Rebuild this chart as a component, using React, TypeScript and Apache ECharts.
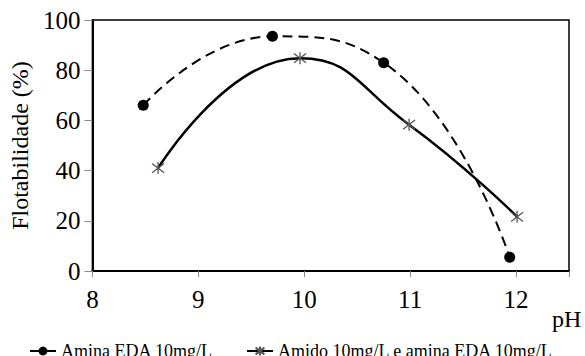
import React, { useEffect, useRef } from "react";
import * as echarts from "echarts";

// pH values and flotability (%) for each reagent condition
const phAmina = [8.48, 9.7, 10.75, 11.94];
const flotAmina = [66, 93.5, 83, 5.5];
const phAmido = [8.62, 9.96, 10.99, 12.01];
const flotAmido = [41, 84.8, 58.3, 21.6];

const seriesNames = ["Amina EDA 10mg/L", "Amido 10mg/L e amina EDA 10mg/L"];
const xTicks = [8, 9, 10, 11, 12];
const yTicks = [0, 20, 40, 60, 80, 100];

const FONT = "Liberation Serif";
const ASTERISK = "path://M-1,-1L1,1M-1,1L1,-1M0,-1.3L0,1.3";

export default function App() {
  const ref = useRef<HTMLDivElement>(null);

  useEffect(() => {
    if (!ref.current) return;
    const chart = echarts.init(ref.current, undefined, { renderer: "svg" });
    chart.setOption({
      animation: false,
      backgroundColor: "#fff",
      textStyle: { fontFamily: FONT, color: "#000" },
      grid: {
        left: 87,
        right: 16,
        top: 20,
        bottom: 85,
        show: true,
        borderColor: "#000",
        borderWidth: 1.5,
      },
      xAxis: {
        type: "value",
        min: xTicks[0],
        max: 12.5,
        interval: 1,
        axisLine: { onZero: false, lineStyle: { color: "#000", width: 2 } },
        axisTick: { show: true, length: 6, lineStyle: { color: "#888", width: 1 } },
        splitLine: { show: false },
        axisLabel: {
          fontFamily: FONT,
          fontSize: 25,
          color: "#000",
          margin: 16,
          formatter: (v: number) => (xTicks.includes(v) ? String(v) : ""),
        },
      },
      yAxis: {
        type: "value",
        min: yTicks[0],
        max: yTicks[yTicks.length - 1],
        interval: 20,
        name: "Flotabilidade (%)",
        nameLocation: "middle",
        nameGap: 56,
        nameTextStyle: { fontFamily: FONT, fontSize: 24, color: "#000" },
        axisLine: { show: true, lineStyle: { color: "#000", width: 2 } },
        axisTick: { show: true, length: 8, lineStyle: { color: "#888", width: 1 } },
        splitLine: { show: false },
        axisLabel: {
          fontFamily: FONT,
          fontSize: 25,
          color: "#000",
          margin: 12,
        },
      },
      legend: {
        left: 24,
        top: 337,
        itemWidth: 26,
        itemHeight: 11,
        itemGap: 33,
        textStyle: { fontFamily: FONT, fontSize: 18, color: "#000" },
        data: seriesNames,
      },
      graphic: [
        {
          type: "text",
          left: 552,
          top: 307,
          style: { text: "pH", fontFamily: FONT, fontSize: 24, fill: "#000" },
        },
      ],
      series: [
        {
          name: seriesNames[0],
          type: "line",
          smooth: 0.5,
          data: phAmina.map((x, i) => [x, flotAmina[i]]),
          symbol: "circle",
          symbolSize: 11,
          itemStyle: { color: "#000" },
          lineStyle: { color: "#000", width: 2, type: [10, 6] },
        },
        {
          name: seriesNames[1],
          type: "line",
          smooth: 0.5,
          data: phAmido.map((x, i) => [x, flotAmido[i]]),
          symbol: ASTERISK,
          symbolSize: 12,
          itemStyle: { color: "none", borderColor: "#555", borderWidth: 1.3 },
          lineStyle: { color: "#000", width: 2.5 },
          z: 3,
        },
      ],
    });
    return () => chart.dispose();
  }, []);

  return (
    <div
      ref={ref}
      style={{ position: "fixed", left: 0, top: 0, width: 585, height: 356 }}
    />
  );
}
